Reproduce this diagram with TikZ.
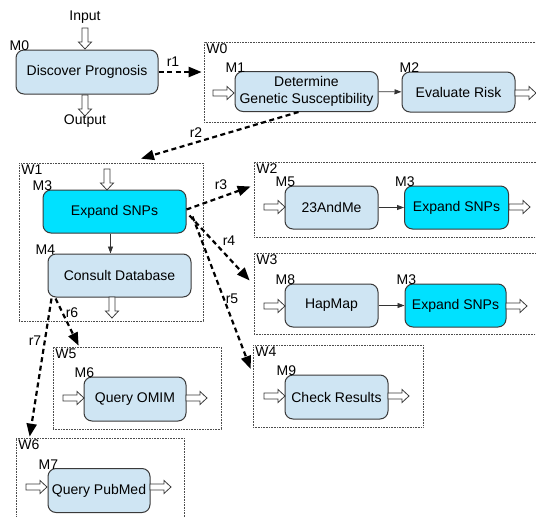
\documentclass[tikz,border=0pt]{standalone}
\usepackage{fontspec}
\setmainfont{Liberation Sans}
\usetikzlibrary{arrows.meta,calc}
\definecolor{lblue}{HTML}{CFE5F3}
\definecolor{cyanbox}{HTML}{00E1FF}
\definecolor{bord}{HTML}{3A3A3A}
\begin{document}
\begin{tikzpicture}[x=1pt,y=-1pt,
  every node/.style={font=\fontsize{14}{16.5}\selectfont},
  box/.style={draw=bord,line width=1pt,rounded corners=8pt,fill=lblue,inner sep=0pt,align=center},
  cbox/.style={box,fill=cyanbox},
  frame/.style={draw=black!70,line width=0.7pt,dash pattern=on 0.8pt off 0.8pt,inner sep=0pt},
  flabel/.style={anchor=north west,inner sep=0pt},
  mlabel/.style={anchor=base west,inner sep=0pt},
  thin/.style={draw=black!80,line width=0.8pt,-{Triangle[length=7pt,width=5pt]}},
  rel/.style={line width=2.2pt,dash pattern=on 5pt off 3.5pt,-{Triangle[length=13pt,width=10pt]}},
  rlabel/.style={inner sep=0pt},
  harrR/.pic={\draw[bord,line width=0.8pt,fill=white] (0,-3) -- (14,-3) -- (14,-6.5) -- (21,0) -- (14,6.5) -- (14,3) -- (0,3) -- cycle;},
  harrD/.pic={\draw[bord,line width=0.8pt,fill=white] (-3,0) -- (-3,14) -- (-6.5,14) -- (0,21) -- (6.5,14) -- (3,14) -- (3,0) -- cycle;}
]
\useasboundingbox (0,0) rectangle (536,517);
\clip (0,0) rectangle (536,517);

% frames
\node[frame,minimum width=336pt,minimum height=80pt] (W0) at (372,82) {};
\node[frame,minimum width=184pt,minimum height=158pt] (W1) at (111,242) {};
\node[frame,minimum width=286pt,minimum height=75pt] (W2) at (397,199.5) {};
\node[frame,minimum width=286pt,minimum height=81pt] (W3) at (397,293.5) {};
\node[frame,minimum width=170pt,minimum height=82pt] (W4) at (338,386) {};
\node[frame,minimum width=168pt,minimum height=82pt] (W5) at (137,388) {};
\node[frame,minimum width=168pt,minimum height=84pt] (W6) at (100,480) {};
\foreach \w in {W0,W1,W2,W3,W4,W5,W6}{
  \node[flabel] (\w lab) at ([xshift=2.5pt,yshift=-2pt]\w.north west) {\w};
}

% boxes
\node[box,minimum width=142pt,minimum height=44pt] (M0) at (87,72) {Discover Prognosis};
\node[box,minimum width=143pt,minimum height=40pt] (M1) at (306.5,91.5) {Determine\\Genetic Susceptibility};
\node[box,minimum width=113pt,minimum height=40pt] (M2) at (458.5,92) {Evaluate Risk};
\node[cbox,minimum width=143pt,minimum height=43pt] (M3) at (114.5,211.5) {Expand SNPs};
\node[box,minimum width=143pt,minimum height=43pt] (M4) at (119.5,275.5) {Consult Database};
\node[box,minimum width=93pt,minimum height=43pt] (M5) at (331.5,207.5) {23AndMe};
\node[cbox,minimum width=104pt,minimum height=43pt] (M3b) at (456.5,207.5) {Expand SNPs};
\node[box,minimum width=93pt,minimum height=43pt] (M8) at (331.5,305.5) {HapMap};
\node[cbox,minimum width=101pt,minimum height=43pt] (M3c) at (455.5,305.5) {Expand SNPs};
\node[box,minimum width=103pt,minimum height=44pt] (M9) at (336.5,397) {Check Results};
\node[box,minimum width=102pt,minimum height=44pt] (M6) at (135,399) {Query OMIM};
\node[box,minimum width=102pt,minimum height=44pt] (M7) at (99,490.5) {Query PubMed};

% box labels
\node[mlabel] (L0) at ([xshift=-6pt,yshift=-1pt]M0.north west) {M0};
\node[mlabel] (L1) at ([xshift=-9pt,yshift=-1pt]M1.north west) {M1};
\node[mlabel] (L2) at ([xshift=-2pt,yshift=-1pt]M2.north west) {M2};
\node[mlabel] (L3) at ([xshift=-10pt,yshift=-1pt]M3.north west) {M3};
\node[mlabel] (L4) at ([xshift=-12pt,yshift=-1pt]M4.north west) {M4};
\node[mlabel] (L5) at ([xshift=-9pt,yshift=-1pt]M5.north west) {M5};
\node[mlabel] (L3b) at ([xshift=-9pt,yshift=-1pt]M3b.north west) {M3};
\node[mlabel] (L8) at ([xshift=-9pt,yshift=-1pt]M8.north west) {M8};
\node[mlabel] (L3c) at ([xshift=-8pt,yshift=-1pt]M3c.north west) {M3};
\node[mlabel] (L9) at ([xshift=-8pt,yshift=-1pt]M9.north west) {M9};
\node[mlabel] (L6) at ([xshift=-9pt,yshift=-1pt]M6.north west) {M6};
\node[mlabel] (L7) at ([xshift=-9pt,yshift=-1pt]M7.north west) {M7};

% input / output
\node (in) at (85,17) {Input};
\node (out) at (85,121) {Output};
\pic at (85,28) {harrD};
\pic at (85,95) {harrD};
\pic at (213,93) {harrR};
\pic at (515,93) {harrR};
\pic at (107,169) {harrD};
\pic at (112,297) {harrD};
\pic at (264,207) {harrR};
\pic at (509,207) {harrR};
\pic at (264,306) {harrR};
\pic at (506,306) {harrR};
\pic at (264,396) {harrR};
\pic at (388,396) {harrR};
\pic at (63,398) {harrR};
\pic at (186,398) {harrR};
\pic at (26,487) {harrR};
\pic at (150,487) {harrR};

% thin connectors
\draw[thin] (M1) -- (M2);
\draw[thin] (M5) -- (M3b);
\draw[thin] (M8) -- (M3c);
\draw[thin] ([xshift=-4pt]M3.south) -- ([xshift=-9pt]M4.north);

% relations
\draw[rel] (M0.east) -- ([xshift=-2pt,yshift=10pt]W0.west);
\node[rlabel] (r1) at (173,62) {r1};
\draw[rel] ([xshift=-8pt]M1.south) -- ([xshift=30pt,yshift=4pt]W1.north);
\node[rlabel] (r2) at (196,133) {r2};
\draw[rel] ([yshift=2pt]M3.east) -- ([xshift=-3pt,yshift=13pt]W2.west);
\node[rlabel] (r3) at (221,185) {r3};
\draw[rel] ([xshift=3pt,yshift=-4pt]M3.east) -- ([xshift=-4pt,yshift=13pt]W3.west);
\node[rlabel] (r4) at (229,241) {r4};
\draw[rel] ([xshift=6pt,yshift=-5pt]M3.east) -- ([xshift=-2pt,yshift=17pt]W4.west);
\node[rlabel] (r5) at (232,299) {r5};
\draw[rel] ([xshift=8pt,yshift=-1pt]M4.south west) -- ([xshift=26pt,yshift=1pt]W5.north west);
\node[rlabel] (r6) at (72,313) {r6};
\draw[rel] ([xshift=4pt,yshift=-1pt]M4.south west) -- ([xshift=14pt,yshift=1pt]W6.north west);
\node[rlabel] (r7) at (35,341) {r7};
\end{tikzpicture}
\end{document}
